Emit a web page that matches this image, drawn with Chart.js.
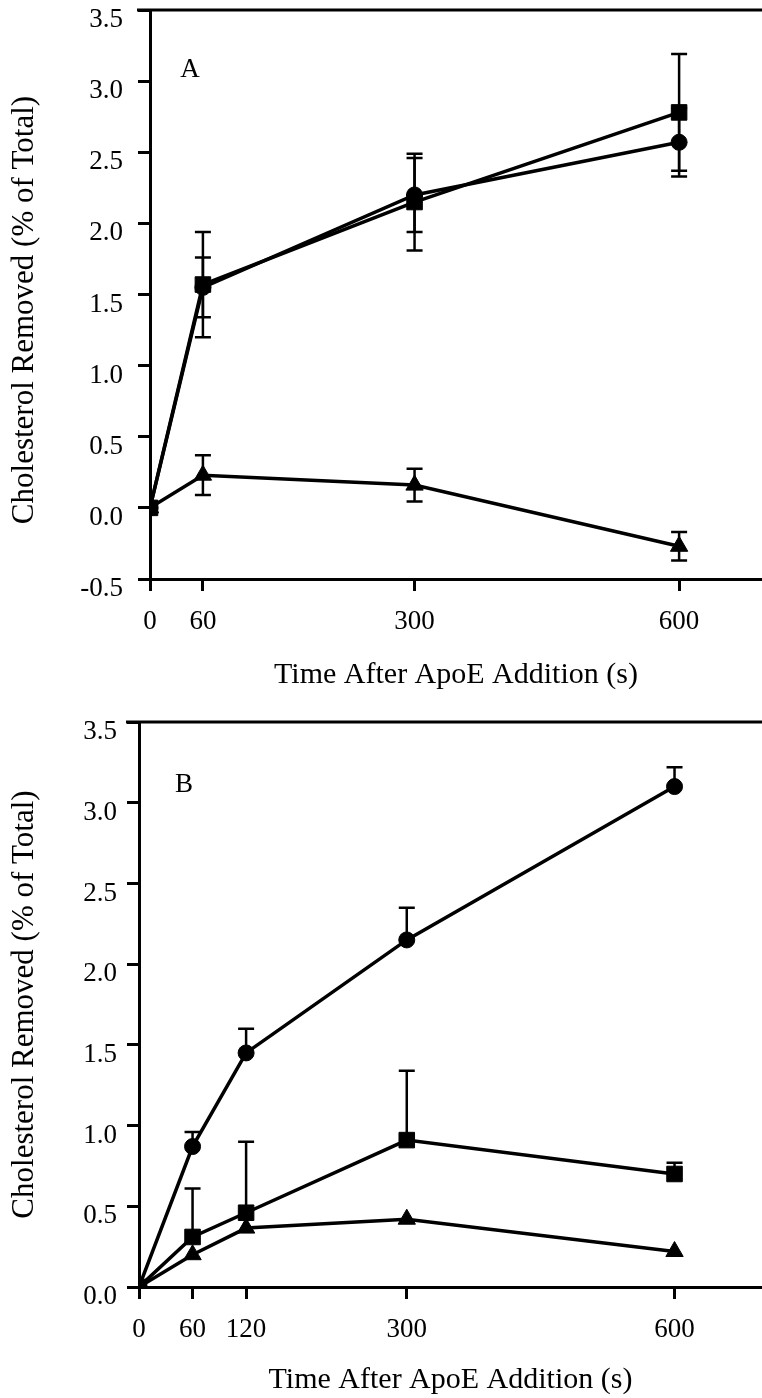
<!DOCTYPE html>
<html>
<head>
<meta charset="utf-8">
<script src="https://cdn.jsdelivr.net/npm/chart.js@4.4.1/dist/chart.umd.min.js"></script>
<style>
  body { margin: 0; background: #fff; }
  canvas { position: absolute; left: 0; }
  #chartA { top: 0; }
  #chartB { top: 700px; }
</style>
</head>
<body>
<canvas id="chartA" width="762" height="700"></canvas>
<canvas id="chartB" width="762" height="698"></canvas>
<script>
// panel A
const timesA = [0, 60, 300, 600];
const squareA = [0, 1.57, 2.15, 2.78];
const squareErrA = [0, 0.37, 0.34, 0.41];
const circleA = [0, 1.55, 2.2, 2.57];
const circleErrA = [0, 0.21, 0.26, 0.24];
const triangleA = [0, 0.23, 0.16, -0.27];
const triangleErrA = [0, 0.14, 0.115, 0.1];

// panel B (error bars only drawn upward)
const timesB = [0, 60, 120, 300, 600];
const circleB = [0, 0.87, 1.45, 2.15, 3.1];
const circleErrB = [0, 0.09, 0.15, 0.2, 0.12];
const squareB = [0, 0.31, 0.46, 0.91, 0.70];
const squareErrB = [0, 0.3, 0.44, 0.43, 0.07];
const triangleB = [0, 0.2, 0.365, 0.42, 0.22];

const xTitle = 'Time After ApoE Addition (s)';
const yTitle = 'Cholesterol Removed (% of Total)';
const serif = 'Liberation Serif, Times New Roman, serif';

Chart.defaults.color = '#000';
Chart.defaults.font.family = serif;

function toPoints(xs, ys) {
    return xs.map((x, i) => ({ x: x, y: ys[i] }));
}

function series(xs, ys, errs, style, radius, both) {
    return {
        data: toPoints(xs, ys),
        errors: errs,
        bothWays: both,
        borderColor: '#000',
        backgroundColor: '#000',
        borderWidth: 3.5,
        pointStyle: style,
        pointRadius: radius,
        pointHoverRadius: radius,
        pointBorderWidth: 1,
        showLine: true,
        fill: false,
        tension: 0
    };
}

const errorBars = {
    id: 'errorBars',
    beforeDatasetsDraw(chart) {
        const ctx = chart.ctx;
        const yScale = chart.scales.y;
        ctx.save();
        ctx.strokeStyle = '#000';
        ctx.lineWidth = 2.5;
        chart.data.datasets.forEach((ds, di) => {
            if (!ds.errors) return;
            const meta = chart.getDatasetMeta(di);
            meta.data.forEach((pt, i) => {
                const e = ds.errors[i];
                if (!e) return;
                const v = ds.data[i].y;
                const yTop = yScale.getPixelForValue(v + e);
                const yBot = ds.bothWays ? yScale.getPixelForValue(v - e) : pt.y;
                ctx.beginPath();
                ctx.moveTo(pt.x, yTop);
                ctx.lineTo(pt.x, yBot);
                ctx.moveTo(pt.x - 8, yTop);
                ctx.lineTo(pt.x + 8, yTop);
                if (ds.bothWays) {
                    ctx.moveTo(pt.x - 8, yBot);
                    ctx.lineTo(pt.x + 8, yBot);
                }
                ctx.stroke();
            });
        });
        ctx.restore();
    }
};

const frame = {
    id: 'frame',
    afterDraw(chart, args, opts) {
        const ctx = chart.ctx;
        const a = chart.chartArea;
        ctx.save();
        ctx.strokeStyle = '#000';
        ctx.lineWidth = 3;
        ctx.beginPath();
        ctx.moveTo(a.left - 13, a.top);
        ctx.lineTo(chart.width, a.top);
        ctx.stroke();
        ctx.fillStyle = '#000';
        ctx.font = '27px ' + serif;
        ctx.textAlign = 'center';
        ctx.textBaseline = 'middle';
        ctx.fillText(opts.letter, a.left + opts.dx, a.top + opts.dy);
        ctx.restore();
    }
};

function buildOptions(cfg) {
    return {
        responsive: false,
        animation: false,
        devicePixelRatio: 1,
        layout: { autoPadding: false, padding: { top: cfg.top, right: 0, bottom: 0, left: 0 } },
        plugins: {
            legend: { display: false },
            tooltip: { enabled: false },
            frame: { letter: cfg.letter, dx: cfg.dx, dy: cfg.dy }
        },
        scales: {
            x: {
                type: 'linear',
                min: 0,
                max: cfg.xMax,
                afterBuildTicks: (s) => { s.ticks = cfg.xTicks.map(v => ({ value: v })); },
                afterFit: (s) => { s.height = cfg.xHeight; s.paddingLeft = 0; s.paddingRight = 0; },
                border: { display: true, color: '#000', width: 3 },
                grid: { drawOnChartArea: false, drawTicks: true, tickLength: 12, tickWidth: 3, tickColor: '#000' },
                ticks: { padding: 15, font: { size: 27 }, color: '#000', maxRotation: 0 },
                title: { display: true, text: xTitle, font: { size: 30 }, color: '#000', padding: { top: 0, bottom: cfg.titlePad } }
            },
            y: {
                min: cfg.yMin,
                max: 3.5,
                afterFit: (s) => { s.width = cfg.yWidth; s.paddingTop = 0; s.paddingBottom = 0; },
                border: { display: true, color: '#000', width: 3 },
                grid: { drawOnChartArea: false, drawTicks: true, tickLength: 12, tickWidth: 3, tickColor: '#000' },
                ticks: { stepSize: 0.5, padding: cfg.yPad, labelOffset: 10, font: { size: 27 }, color: '#000', callback: (v) => v.toFixed(1) },
                title: { display: true, text: cfg.yText, font: { size: 31 }, color: '#000', padding: { top: 6, bottom: 0 } }
            }
        }
    };
}

const ctxA = document.getElementById('chartA').getContext('2d');
const chartA = new Chart(ctxA, {
    type: 'scatter',
    data: {
        datasets: [
            series(timesA, triangleA, triangleErrA, 'triangle', 10, true),
            series(timesA, circleA, circleErrA, 'circle', 8, true),
            series(timesA, squareA, squareErrA, 'rect', 11, true)
        ]
    },
    options: buildOptions({
        top: 10, letter: 'A', dx: 40, dy: 60,
        xMax: 694, xTicks: timesA, xHeight: 121, titlePad: 7,
        yMin: -0.5, yWidth: 150, yPad: 15, yText: yTitle + '    '
    }),
    plugins: [errorBars, frame]
});

const ctxB = document.getElementById('chartB').getContext('2d');
const chartB = new Chart(ctxB, {
    type: 'scatter',
    data: {
        datasets: [
            series(timesB, triangleB, null, 'triangle', 10, false),
            series(timesB, squareB, squareErrB, 'rect', 11, false),
            series(timesB, circleB, circleErrB, 'circle', 8, false)
        ]
    },
    options: buildOptions({
        top: 22, letter: 'B', dx: 45, dy: 63,
        xMax: 698, xTicks: timesB, xHeight: 111, titlePad: 0,
        yMin: 0, yWidth: 139, yPad: 10, yText: yTitle
    }),
    plugins: [errorBars, frame]
});
</script>
</body>
</html>
